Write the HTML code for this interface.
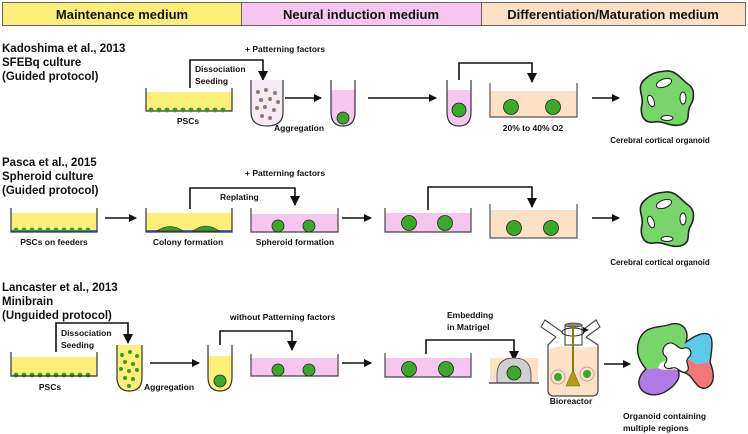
<!DOCTYPE html>
<html><head><meta charset="utf-8"><style>
html,body{margin:0;padding:0;background:#fff}
svg{display:block}
text{font-family:"Liberation Sans",Arial,sans-serif;font-weight:bold;fill:#111}
</style></head><body>
<svg width="748" height="434" viewBox="0 0 748 434" xmlns="http://www.w3.org/2000/svg">
<defs>
<marker id="ah" markerWidth="8" markerHeight="8" refX="7" refY="4" orient="auto" markerUnits="userSpaceOnUse">
<path d="M0,0 L8,4 L0,8 z" fill="#111"/></marker>
<marker id="ad" markerWidth="10" markerHeight="10" refX="5" refY="9" orient="0" markerUnits="userSpaceOnUse">
<path d="M0,0 L10,0 L5,10 z" fill="#111"/></marker>
<g id="org">
<path d="M0,-27 C10,-28 16,-18 22,-14 C30,-9 28,2 24,8 C20,16 26,24 14,27 C4,29 -4,22 -12,24 C-24,26 -26,14 -24,6 C-22,-2 -30,-10 -22,-18 C-14,-26 -8,-26 0,-27 z" fill="#77d56a" stroke="#222" stroke-width="1.6"/>
<ellipse cx="-2" cy="-15" rx="8" ry="4" transform="rotate(-20 -2 -15)" fill="#fff" stroke="#222"/>
<ellipse cx="-15" cy="3" rx="3" ry="6" transform="rotate(-20 -15 3)" fill="#fff" stroke="#222"/>
<ellipse cx="17" cy="0" rx="3" ry="6" fill="#fff" stroke="#222"/>
<ellipse cx="1" cy="20" rx="6" ry="2.5" fill="#fff" stroke="#222"/>
</g>
</defs>
<!-- header -->
<rect x="2.5" y="2.5" width="239" height="23" fill="#fcf07a" stroke="#666"/>
<rect x="241.5" y="2.5" width="240" height="23" fill="#f5c6f0" stroke="#666"/>
<rect x="481.5" y="2.5" width="264" height="23" fill="#fde1c6" stroke="#666"/>
<text x="122" y="19" text-anchor="middle" font-size="13">Maintenance medium</text>
<text x="361" y="19" text-anchor="middle" font-size="13">Neural induction medium</text>
<text x="613" y="19" text-anchor="middle" font-size="13">Differentiation/Maturation medium</text>

<g font-size="11">
<text x="2" y="52" font-size="11.5">Kadoshima et al., 2013</text>
<text x="2" y="66" font-size="11.5">SFEBq culture</text>
<text x="2" y="80" font-size="11.5">(Guided protocol)</text>
</g>
<g font-size="8.5">
<text x="245" y="52">+ Patterning factors</text>
<text x="195" y="72">Dissociation</text>
<text x="195" y="84">Seeding</text>
<text x="188" y="124" text-anchor="middle">PSCs</text>
<text x="274" y="131">Aggregation</text>
<text x="533" y="131" text-anchor="middle">20% to 40% O2</text>
<text x="660" y="143" text-anchor="middle" font-size="8">Cerebral cortical organoid</text>
</g>
<rect x="146" y="92" width="86" height="19" fill="#fcf07a"/>
<path d="M146,88 V111 H232 V88" fill="none" stroke="#333" stroke-width="1.2"/>
<g fill="#3a9a2a">
<circle cx="151" cy="110" r="2.4"/><circle cx="159" cy="110" r="2.4"/><circle cx="167" cy="110" r="2.4"/><circle cx="175" cy="110" r="2.4"/><circle cx="183" cy="110" r="2.4"/><circle cx="191" cy="110" r="2.4"/><circle cx="199" cy="110" r="2.4"/><circle cx="207" cy="110" r="2.4"/><circle cx="215" cy="110" r="2.4"/><circle cx="223" cy="110" r="2.4"/></g>
<path d="M190,88 V60 H263 V80" fill="none" stroke="#111" stroke-width="1.6" marker-end="url(#ad)"/>
<path d="M251,80 V112 Q251,126 267,126 Q283,126 283,112 V80" fill="#f6eaf4" stroke="#333" stroke-width="1.2"/>
<g fill="#8a7a6a"><circle cx="258" cy="92" r="2"/><circle cx="266" cy="90" r="2"/><circle cx="275" cy="93" r="2"/><circle cx="261" cy="100" r="2"/><circle cx="270" cy="99" r="2"/><circle cx="278" cy="102" r="2"/><circle cx="257" cy="108" r="2"/><circle cx="265" cy="107" r="2"/><circle cx="274" cy="110" r="2"/><circle cx="262" cy="116" r="2"/><circle cx="270" cy="118" r="2"/></g>
<line x1="285" y1="98" x2="321" y2="98" stroke="#111" stroke-width="1.5" marker-end="url(#ah)"/>
<path d="M331,90 V112 Q331,126 343,126 Q355,126 355,112 V90z" fill="#f5c6f0"/>
<path d="M331,80 V112 Q331,126 343,126 Q355,126 355,112 V80" fill="none" stroke="#333" stroke-width="1.2"/>
<circle cx="343" cy="118" r="6" fill="#3aa92a" stroke="#222" stroke-width="0.8"/>
<line x1="368" y1="98" x2="436" y2="98" stroke="#111" stroke-width="1.5" marker-end="url(#ah)"/>
<path d="M447,90 V112 Q447,126 459,126 Q471,126 471,112 V90z" fill="#f5c6f0"/>
<path d="M447,80 V112 Q447,126 459,126 Q471,126 471,112 V80" fill="none" stroke="#333" stroke-width="1.2"/>
<circle cx="459" cy="110" r="7" fill="#3aa92a" stroke="#222" stroke-width="0.8"/>
<path d="M459,80 V63 H532 V82" fill="none" stroke="#111" stroke-width="1.6" marker-end="url(#ad)"/>
<rect x="490" y="91" width="87" height="26" fill="#fde1c6"/>
<path d="M490,83 V117 H577 V83" fill="none" stroke="#555" stroke-width="1.2"/>
<circle cx="511" cy="107" r="7.5" fill="#3aa92a" stroke="#222" stroke-width="0.8"/>
<circle cx="553" cy="107" r="7.5" fill="#3aa92a" stroke="#222" stroke-width="0.8"/>
<line x1="592" y1="98" x2="619" y2="98" stroke="#111" stroke-width="1.5" marker-end="url(#ah)"/>
<use href="#org" x="666" y="98"/>

<g font-size="11.5"><text x="2" y="166">Pasca et al., 2015</text><text x="2" y="180">Spheroid culture</text><text x="2" y="194">(Guided protocol)</text></g>
<g font-size="8.5">
<text x="245" y="176">+ Patterning factors</text>
<text x="220" y="200">Replating</text>
<text x="54" y="245" text-anchor="middle">PSCs on feeders</text>
<text x="188" y="245" text-anchor="middle">Colony formation</text>
<text x="295" y="245" text-anchor="middle">Spheroid formation</text>
<text x="660" y="265" text-anchor="middle" font-size="8">Cerebral cortical organoid</text>
</g>
<rect x="11" y="213" width="86" height="19" fill="#fcf07a"/>
<line x1="11" y1="231" x2="97" y2="231" stroke="#3b6fd0" stroke-width="2"/>
<g fill="#3a9a2a"><circle cx="16" cy="230" r="2.4"/><circle cx="24" cy="230" r="2.4"/><circle cx="32" cy="230" r="2.4"/><circle cx="40" cy="230" r="2.4"/><circle cx="48" cy="230" r="2.4"/><circle cx="56" cy="230" r="2.4"/><circle cx="64" cy="230" r="2.4"/><circle cx="72" cy="230" r="2.4"/><circle cx="80" cy="230" r="2.4"/><circle cx="88" cy="230" r="2.4"/></g>
<path d="M11,208 V232 H97 V208" fill="none" stroke="#333" stroke-width="1.2"/>
<line x1="105" y1="218" x2="136" y2="218" stroke="#111" stroke-width="1.5" marker-end="url(#ah)"/>
<rect x="146" y="213" width="86" height="19" fill="#fcf07a"/>
<line x1="146" y1="231" x2="232" y2="231" stroke="#3b6fd0" stroke-width="2"/>
<path d="M157,231 Q170,222 183,231z M193,231 Q206,221 219,231z" fill="#3a9a2a" stroke="#222" stroke-width="0.6"/>
<path d="M146,208 V232 H232 V208" fill="none" stroke="#333" stroke-width="1.2"/>
<path d="M190,209 V188 H295 V205" fill="none" stroke="#111" stroke-width="1.6" marker-end="url(#ad)"/>
<rect x="251" y="214" width="87" height="18" fill="#f5c6f0"/>
<path d="M251,208 V232 H338 V208" fill="none" stroke="#444" stroke-width="1.2"/>
<circle cx="278" cy="226" r="6" fill="#3aa92a" stroke="#222" stroke-width="0.8"/>
<circle cx="309" cy="226" r="6" fill="#3aa92a" stroke="#222" stroke-width="0.8"/>
<line x1="342" y1="218" x2="371" y2="218" stroke="#111" stroke-width="1.5" marker-end="url(#ah)"/>
<rect x="385" y="213" width="86" height="19" fill="#f5c6f0"/>
<path d="M385,208 V232 H471 V208" fill="none" stroke="#444" stroke-width="1.2"/>
<circle cx="409" cy="223" r="7.5" fill="#3aa92a" stroke="#222" stroke-width="0.8"/>
<circle cx="445" cy="223" r="7.5" fill="#3aa92a" stroke="#222" stroke-width="0.8"/>
<path d="M428,210 V187 H532 V207" fill="none" stroke="#111" stroke-width="1.6" marker-end="url(#ad)"/>
<rect x="490" y="210" width="87" height="28" fill="#fde1c6"/>
<path d="M490,204 V238 H577 V204" fill="none" stroke="#555" stroke-width="1.2"/>
<circle cx="514" cy="228" r="7.5" fill="#3aa92a" stroke="#222" stroke-width="0.8"/>
<circle cx="551" cy="228" r="7.5" fill="#3aa92a" stroke="#222" stroke-width="0.8"/>
<line x1="592" y1="218" x2="619" y2="218" stroke="#111" stroke-width="1.5" marker-end="url(#ah)"/>
<use href="#org" x="666" y="219"/>

<g font-size="11.5"><text x="2" y="291">Lancaster et al., 2013</text><text x="2" y="305">Minibrain</text><text x="2" y="319">(Unguided protocol)</text></g>
<g font-size="8.5">
<text x="61" y="336">Dissociation</text>
<text x="61" y="348">Seeding</text>
<text x="50" y="390" text-anchor="middle">PSCs</text>
<text x="144" y="390">Aggregation</text>
<text x="230" y="320">without Patterning factors</text>
<text x="447" y="318">Embedding</text>
<text x="447" y="330">in Matrigel</text>
<text x="571" y="404" text-anchor="middle">Bioreactor</text>
<text x="623" y="419">Organoid containing</text>
<text x="623" y="431">multiple regions</text>
</g>
<rect x="11" y="357" width="86" height="19" fill="#fcf07a"/>
<g fill="#3a9a2a"><circle cx="16" cy="375" r="2.4"/><circle cx="24" cy="375" r="2.4"/><circle cx="32" cy="375" r="2.4"/><circle cx="40" cy="375" r="2.4"/><circle cx="48" cy="375" r="2.4"/><circle cx="56" cy="375" r="2.4"/><circle cx="64" cy="375" r="2.4"/><circle cx="72" cy="375" r="2.4"/><circle cx="80" cy="375" r="2.4"/><circle cx="88" cy="375" r="2.4"/></g>
<path d="M11,352 V376 H97 V352" fill="none" stroke="#333" stroke-width="1.2"/>
<path d="M56,352 V323 H128 V343" fill="none" stroke="#111" stroke-width="1.6" marker-end="url(#ad)"/>
<path d="M117,345 V377 Q117,391 129.5,391 Q142,391 142,377 V345" fill="#fcf07a" stroke="#333" stroke-width="1.2"/>
<g fill="#3a9a2a"><circle cx="122" cy="355" r="2"/><circle cx="130" cy="352" r="2"/><circle cx="137" cy="356" r="2"/><circle cx="125" cy="362" r="2"/><circle cx="133" cy="364" r="2"/><circle cx="121" cy="369" r="2"/><circle cx="129" cy="371" r="2"/><circle cx="137" cy="370" r="2"/><circle cx="125" cy="378" r="2"/><circle cx="133" cy="379" r="2"/><circle cx="129" cy="386" r="2"/></g>
<line x1="150" y1="363" x2="199" y2="363" stroke="#111" stroke-width="1.5" marker-end="url(#ah)"/>
<path d="M208,356 V377 Q208,391 220,391 Q232,391 232,377 V356z" fill="#fcf07a"/>
<path d="M208,345 V377 Q208,391 220,391 Q232,391 232,377 V345" fill="none" stroke="#333" stroke-width="1.2"/>
<circle cx="220" cy="381" r="6" fill="#3aa92a" stroke="#222" stroke-width="0.8"/>
<path d="M220,345 V331 H292 V350" fill="none" stroke="#111" stroke-width="1.6" marker-end="url(#ad)"/>
<rect x="251" y="358" width="87" height="18" fill="#f5c6f0"/>
<path d="M251,354 V376 H338 V354" fill="none" stroke="#444" stroke-width="1.2"/>
<circle cx="278" cy="370" r="6" fill="#3aa92a" stroke="#222" stroke-width="0.8"/>
<circle cx="309" cy="370" r="6" fill="#3aa92a" stroke="#222" stroke-width="0.8"/>
<line x1="342" y1="363" x2="371" y2="363" stroke="#111" stroke-width="1.5" marker-end="url(#ah)"/>
<rect x="385" y="358" width="86" height="19" fill="#f5c6f0"/>
<path d="M385,353 V377 H471 V353" fill="none" stroke="#444" stroke-width="1.2"/>
<circle cx="409" cy="369" r="7.5" fill="#3aa92a" stroke="#222" stroke-width="0.8"/>
<circle cx="446" cy="369" r="7.5" fill="#3aa92a" stroke="#222" stroke-width="0.8"/>
<path d="M426,354 V340 H514 V360" fill="none" stroke="#111" stroke-width="1.6" marker-end="url(#ad)"/>
<rect x="490" y="358" width="48" height="25" fill="#fde1c6"/>
<path d="M497,383 V375 Q497,358 514,358 Q531,358 531,375 V383z" fill="#cfcfcf" stroke="#444" stroke-width="0.8"/>
<circle cx="514" cy="373" r="7" fill="#3aa92a" stroke="#222" stroke-width="0.8"/>
<line x1="489" y1="383" x2="539" y2="383" stroke="#333" stroke-width="1.2"/>
<path d="M548,350 Q560,345 571,347 Q584,349 598,346 V390 Q598,396 592,396 H554 Q548,396 548,390z" fill="#fde1c6"/>
<path d="M556,337 L548,345 V390 Q548,396 554,396 H592 Q598,396 598,390 V345 L586,337" fill="none" stroke="#444" stroke-width="1.2"/>
<path d="M556,337 L541,327 L545,320 L562,332" fill="#fff" stroke="#444" stroke-width="1.1"/>
<path d="M586,337 L600,327 L596,320 L580,332" fill="#fff" stroke="#444" stroke-width="1.1"/>
<rect x="565" y="325" width="17" height="20" fill="#fff" stroke="#444" stroke-width="1.1"/>
<ellipse cx="573.5" cy="325" rx="8.5" ry="2" fill="#888" stroke="#444" stroke-width="0.8"/>
<ellipse cx="573" cy="332" rx="11" ry="4" fill="none" stroke="#222" stroke-width="1"/>
<path d="M583,327 L589,330 L583,333z" fill="#111"/>
<line x1="573" y1="325" x2="573" y2="383" stroke="#8a7a10" stroke-width="2"/>
<path d="M573,370 L566,386 H580z" fill="#b59a18" stroke="#7a6a10" stroke-width="0.6"/>
<circle cx="558" cy="377" r="7" fill="#f3e3d6" stroke="#d49a9a"/>
<circle cx="558" cy="377" r="4" fill="#3aa92a"/>
<circle cx="587" cy="374" r="7" fill="#f3e3d6" stroke="#d49a9a"/>
<circle cx="587" cy="374" r="4" fill="#3aa92a"/>
<line x1="604" y1="364" x2="630" y2="364" stroke="#111" stroke-width="1.5" marker-end="url(#ah)"/>
<g stroke="none">
<path d="M668,325 C682,320 690,330 686,342 C684,350 682,353 680,356 L670,362 C664,360 660,362 658,368 L646,369 C640,362 634,352 640,338 C646,326 656,328 668,325z" fill="#77d56a"/>
<path d="M686,342 C692,338 700,332 708,334 C714,336 712,350 710,362 L696,364 C690,358 684,360 680,356 C682,353 684,350 686,342z" fill="#5ccbea"/>
<path d="M696,364 L710,362 C714,372 716,384 706,388 C698,390 694,380 690,376 C686,372 680,372 678,368 L670,362 L680,356 C684,360 690,358 696,364z" fill="#f0787a"/>
<path d="M646,369 L658,368 C664,372 672,368 678,370 C682,378 674,386 668,390 C660,396 650,396 644,392 C636,386 638,376 646,369z" fill="#b27ae6"/>
<path d="M664,355 C660,348 668,340 674,344 C678,346 680,350 684,348 C690,346 694,354 688,358 C684,362 692,368 686,372 C680,374 678,366 672,368 C666,370 662,366 666,362 C668,358 666,357 664,355z" fill="#fff"/>
</g>
<path d="M668,325 C682,320 690,330 686,342 C692,338 700,332 708,334 C714,336 712,350 710,362 C714,372 716,384 706,388 C698,390 694,380 690,376 C686,372 680,372 678,370 C682,378 674,386 668,390 C660,396 650,396 644,392 C636,386 638,376 646,369 C640,362 634,352 640,338 C646,326 656,328 668,325z" fill="none" stroke="#222" stroke-width="1.4"/>
<path d="M664,355 C660,348 668,340 674,344 C678,346 680,350 684,348 C690,346 694,354 688,358 C684,362 692,368 686,372 C680,374 678,366 672,368 C666,370 662,366 666,362 C668,358 666,357 664,355z" fill="none" stroke="#222" stroke-width="1.2"/>
</svg>
</body></html>
